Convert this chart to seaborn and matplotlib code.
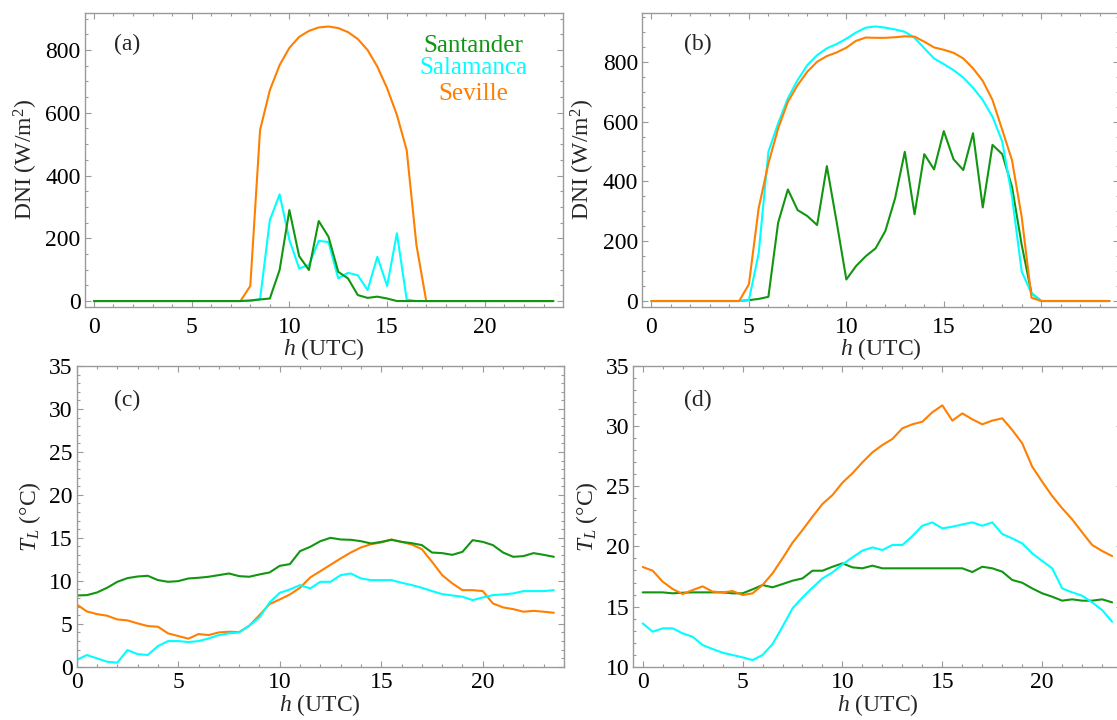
import numpy as np
import pandas as pd
import matplotlib
matplotlib.use("Agg")
import matplotlib.pyplot as plt
import seaborn as sns
from matplotlib.ticker import MultipleLocator

sns.set_style("ticks")
plt.rcParams["font.family"] = ["Liberation Serif", "DejaVu Serif"]
plt.rcParams["mathtext.fontset"] = "custom"
plt.rcParams["mathtext.rm"] = "Liberation Serif"
plt.rcParams["mathtext.it"] = "Liberation Serif:italic"

# ---------------- data ----------------
hours = [0, 0.5, 1, 1.5, 2, 2.5, 3, 3.5, 4, 4.5, 5, 5.5, 6, 6.5, 7, 7.5,
         8, 8.5, 9, 9.5, 10, 10.5, 11, 11.5, 12, 12.5, 13, 13.5, 14, 14.5, 15, 15.5,
         16, 16.5, 17, 17.5, 18, 18.5, 19, 19.5, 20, 20.5, 21, 21.5, 22, 22.5, 23, 23.5]

stations = ["Santander", "Salamanca", "Seville"]

# (a) DNI, winter day
dni_a_santander = [0, 0, 0, 0, 0, 0, 0, 0, 0, 0, 0, 0, 0, 0, 0, 0,
                   2, 5, 8, 99, 290, 143, 99, 255, 205, 93, 72, 19, 10, 14, 8, 0,
                   0, 0, 0, 0, 0, 0, 0, 0, 0, 0, 0, 0, 0, 0, 0, 0]
dni_a_salamanca = [0, 0, 0, 0, 0, 0, 0, 0, 0, 0, 0, 0, 0, 0, 0, 0,
                   0, 6, 258, 340, 195, 104, 115, 192, 188, 72, 90, 82, 35, 141, 48, 216,
                   5, 0, 0, 0, 0, 0, 0, 0, 0, 0, 0, 0, 0, 0, 0, 0]
dni_a_seville = [0, 0, 0, 0, 0, 0, 0, 0, 0, 0, 0, 0, 0, 0, 0, 0,
                 48, 545, 672, 752, 807, 842, 861, 872, 875, 870, 857, 835, 800, 747, 678, 593,
                 481, 178, 0, 0, 0, 0, 0, 0, 0, 0, 0, 0, 0, 0, 0, 0]

# (b) DNI, summer day
dni_b_santander = [0, 0, 0, 0, 0, 0, 0, 0, 0, 0, 3, 7, 14, 262, 373, 304,
                   284, 254, 451, 265, 72, 117, 150, 176, 234, 343, 499, 290, 491, 440, 568, 474,
                   438, 561, 313, 522, 491, 382, 187, 26, 0, 0, 0, 0, 0, 0, 0, 0]
dni_b_salamanca = [0, 0, 0, 0, 0, 0, 0, 0, 0, 0, 3, 159, 499, 594, 678, 739,
                   789, 822, 845, 859, 877, 898, 914, 918, 914, 908, 900, 880, 845, 811, 792, 772,
                   747, 713, 672, 616, 533, 349, 98, 26, 0, 0, 0, 0, 0, 0, 0, 0]
dni_b_seville = [0, 0, 0, 0, 0, 0, 0, 0, 0, 0, 56, 310, 460, 577, 666, 722,
                 767, 800, 819, 831, 847, 870, 881, 880, 880, 882, 885, 884, 867, 848, 840, 830,
                 811, 778, 736, 672, 572, 471, 280, 11, 0, 0, 0, 0, 0, 0, 0, 0]

# (c) air temperature, winter day
tl_c_santander = [8.29, 8.33, 8.64, 9.19, 9.88, 10.31, 10.5, 10.58, 10.08, 9.88, 9.96, 10.27,
                  10.35, 10.47, 10.66, 10.85, 10.54, 10.47, 10.74, 10.97, 11.74, 11.94, 13.45, 13.95,
                  14.61, 15.0, 14.81, 14.77, 14.61, 14.34, 14.53, 14.77, 14.53, 14.38, 14.15, 13.29,
                  13.22, 13.02, 13.37, 14.73, 14.53, 14.15, 13.29, 12.79, 12.87, 13.22, 13.02, 12.79]
tl_c_salamanca = [0.78, 1.36, 0.97, 0.58, 0.47, 1.94, 1.47, 1.36, 2.40, 2.98, 2.98, 2.87,
                  2.98, 3.29, 3.68, 3.88, 3.99, 4.77, 5.74, 7.48, 8.6, 8.99, 9.5, 9.11,
                  9.88, 9.88, 10.66, 10.85, 10.27, 10.08, 10.08, 10.08, 9.77, 9.5, 9.19, 8.8,
                  8.45, 8.29, 8.14, 7.75, 8.06, 8.33, 8.41, 8.53, 8.80, 8.80, 8.80, 8.91]
tl_c_seville = [7.25, 6.43, 6.12, 5.93, 5.5, 5.39, 5.04, 4.73, 4.65, 3.88, 3.57, 3.26,
                3.80, 3.68, 3.99, 4.07, 4.03, 4.77, 6.0, 7.29, 7.83, 8.41, 9.19, 10.39,
                11.12, 11.86, 12.6, 13.29, 13.88, 14.26, 14.46, 14.81, 14.53, 14.22, 13.68, 12.21,
                10.66, 9.69, 8.91, 8.91, 8.80, 7.36, 6.9, 6.7, 6.4, 6.5, 6.4, 6.28]

# (d) air temperature, summer day
tl_d_santander = [16.18, 16.18, 16.18, 16.10, 16.15, 16.18, 16.18, 16.18, 16.18, 16.10, 16.10, 16.43,
                  16.79, 16.60, 16.87, 17.15, 17.34, 17.98, 17.98, 18.31, 18.59, 18.26, 18.18, 18.40,
                  18.18, 18.18, 18.18, 18.18, 18.18, 18.18, 18.18, 18.18, 18.18, 17.87, 18.31, 18.18,
                  17.90, 17.21, 16.98, 16.51, 16.10, 15.82, 15.49, 15.60, 15.49, 15.49, 15.60, 15.35]
tl_d_salamanca = [13.6, 12.91, 13.19, 13.19, 12.77, 12.49, 11.8, 11.47, 11.16, 10.97, 10.78, 10.55,
                  10.97, 11.88, 13.33, 14.85, 15.76, 16.57, 17.34, 17.84, 18.51, 19.09, 19.65, 19.92,
                  19.70, 20.12, 20.12, 20.86, 21.72, 22.0, 21.50, 21.64, 21.83, 22.0, 21.72, 22.0,
                  21.03, 20.67, 20.25, 19.42, 18.79, 18.18, 16.51, 16.18, 15.90, 15.35, 14.71, 13.74]
tl_d_seville = [18.29, 17.98, 17.07, 16.46, 16.04, 16.37, 16.68, 16.24, 16.18, 16.29, 15.96, 16.10,
                16.79, 17.76, 19.0, 20.31, 21.36, 22.47, 23.53, 24.27, 25.30, 26.08, 26.99, 27.82,
                28.43, 28.93, 29.82, 30.15, 30.37, 31.15, 31.73, 30.46, 31.06, 30.57, 30.15, 30.46,
                30.65, 29.68, 28.57, 26.63, 25.38, 24.19, 23.17, 22.25, 21.17, 20.12, 19.62, 19.20]

panel_labels = ["(a)", "(b)", "(c)", "(d)"]
x_ticks = [0, 5, 10, 15, 20]
dni_ticks = [0, 200, 400, 600, 800]
tl_ticks = [0, 5, 10, 15, 20, 25, 30, 35]

colors = {"Santander": "#129612", "Salamanca": "#00ffff", "Seville": "#ff7f00"}
frame_color = "#9a9a9a"


def long_df(santander, salamanca, seville):
    frames = []
    for name, vals in zip(stations, [santander, salamanca, seville]):
        frames.append(pd.DataFrame({"h": hours, "v": vals, "station": name}))
    return pd.concat(frames, ignore_index=True)


W, H = 1117, 720
fig = plt.figure(figsize=(W / 100, H / 100), dpi=100)


def add_axes_px(l, r, t, b):
    return fig.add_axes([l / W, 1 - b / H, (r - l) / W, (b - t) / H])


ax_a = add_axes_px(84.7, 562.5, 12.7, 307)
ax_b = add_axes_px(642.3, 1118.6, 12.7, 307)
ax_c = add_axes_px(76.7, 564.0, 366, 666.7)
ax_d = add_axes_px(633.3, 1121.5, 366, 666.7)

panels = [
    (ax_a, long_df(dni_a_santander, dni_a_salamanca, dni_a_seville),
     ["Seville", "Salamanca", "Santander"], (-0.47, 23.97), (-19, 919), dni_ticks, 50, "DNI (W/m$^2$)", 7),
    (ax_b, long_df(dni_b_santander, dni_b_salamanca, dni_b_seville),
     ["Santander", "Salamanca", "Seville"], (-0.47, 23.97), (-20, 964), dni_ticks, 50, "DNI (W/m$^2$)", 7),
    (ax_c, long_df(tl_c_santander, tl_c_salamanca, tl_c_seville),
     ["Seville", "Salamanca", "Santander"], (0, 24.0), (0, 35), tl_ticks, 1, r"$T_{L}$ (°C)", 4),
    (ax_d, long_df(tl_d_santander, tl_d_salamanca, tl_d_seville),
     ["Santander", "Salamanca", "Seville"], (-0.47, 23.97), (10, 35), tl_ticks, 1, r"$T_{L}$ (°C)", 4),
]

for ax, df, order, xl, yl, yt, yminor, ylab, xpad in panels:
    sns.lineplot(data=df, x="h", y="v", hue="station", hue_order=order,
                 palette=colors, estimator=None, sort=False, linewidth=1.5,
                 legend=False, ax=ax)
    ax.set_xlim(*xl)
    ax.set_ylim(*yl)
    ax.set_xticks(x_ticks)
    ax.set_yticks([t for t in yt if yl[0] <= t <= yl[1]])
    ax.xaxis.set_minor_locator(MultipleLocator(1))
    ax.yaxis.set_minor_locator(MultipleLocator(yminor))
    ax.tick_params(which="both", direction="in", top=True, right=True,
                   color=frame_color, width=0.8, labelsize=17, labelcolor="black")
    ax.tick_params(which="major", length=4.5)
    ax.tick_params(which="minor", length=2.5)
    ax.tick_params(axis="x", which="major", pad=xpad)
    ax.tick_params(axis="y", which="major", pad=3)
    for sp in ax.spines.values():
        sp.set_color(frame_color)
        sp.set_linewidth(1.0)
    ax.set_xlabel(r"$h$ (UTC)", fontsize=17, labelpad=-1)
    ax.set_ylabel(ylab, fontsize=17, labelpad=4)

# panel letters
for (px, py), lab in zip([(127.5, 44), (698, 44), (127.5, 400), (698, 400)], panel_labels):
    fig.text(px / W, 1 - py / H, lab, ha="center", va="center", fontsize=17)

# station legend in panel (a)
for name, py in zip(stations, [52.3, 74.5, 100.5]):
    fig.text(473 / W, 1 - py / H, name, ha="center", va="baseline",
             fontsize=18, color=colors[name])

fig.savefig("out.png", dpi=100)
